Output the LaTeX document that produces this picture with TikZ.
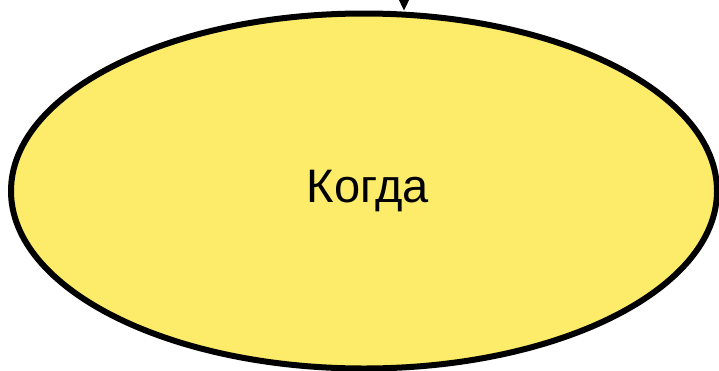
\documentclass[tikz,border=0pt]{standalone}
\usepackage{fontspec}
\setmainfont{Liberation Sans}
\usetikzlibrary{shapes.geometric,arrows.meta}
\definecolor{fillyellow}{RGB}{253,236,106}
\tikzset{
  bubble/.style={ellipse, draw=black, line width=6pt, fill=fillyellow,
    minimum width=706pt, minimum height=355pt, inner sep=0pt,
    font=\fontsize{47}{56}\selectfont},
  flow/.style={draw=black, line width=2pt, -{Triangle[length=15pt,width=14pt]}}
}
\begin{document}
\begin{tikzpicture}[x=1pt,y=-1pt]
\useasboundingbox (0,0) rectangle (719,370);
\clip (0,0) rectangle (719,370);
\node[bubble] (e) at (364,191) {\hspace*{8pt}\raisebox{-4pt}{Когда}};
\coordinate (src) at (404,-40);
\draw[flow] (src) -- (e.north -| src);
\end{tikzpicture}
\end{document}
